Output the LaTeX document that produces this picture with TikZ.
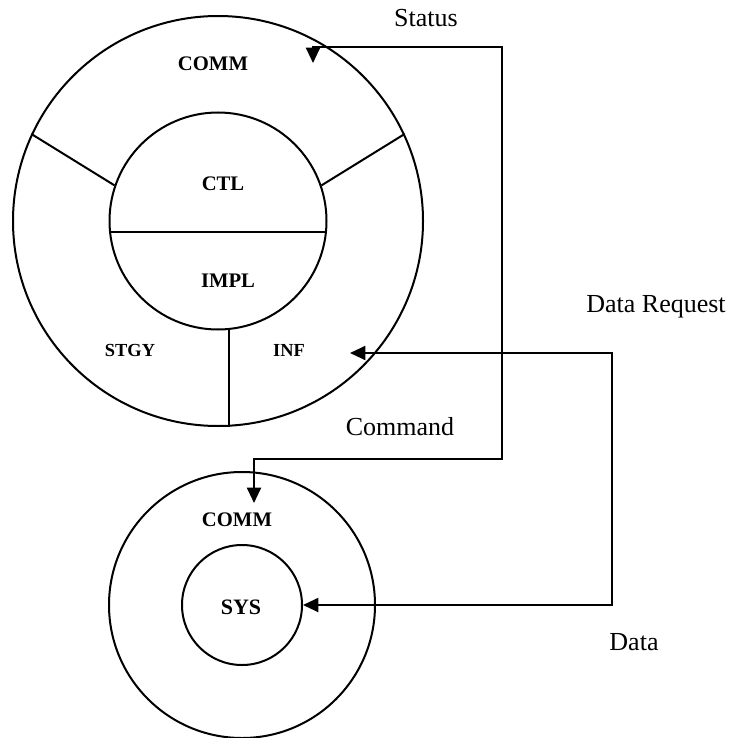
\documentclass[tikz,border=0pt]{standalone}
\usepackage{fontspec}
\setmainfont{Liberation Serif}
\usetikzlibrary{arrows.meta}
\pgfkeys{tikz/ring/.style={draw,circle,line width=1.5pt,inner sep=0pt}}
\pgfkeys{tikz/part/.style={font=\fontsize{15.5}{18}\selectfont\bfseries}}
\pgfkeys{tikz/subpart/.style={font=\fontsize{13.8}{16}\selectfont\bfseries}}
\pgfkeys{tikz/msg/.style={font=\fontsize{19.5}{23}\selectfont}}
\pgfkeys{tikz/wire/.style={line width=1.5pt,>={Triangle[length=11.5pt,width=10.5pt]}}}
\newcommand\px{0.75pt}

\begin{document}
\begin{tikzpicture}[x=\px,y=-\px]
    \useasboundingbox (0,0) rectangle (733,738);
    \node[ring,minimum size=410*\px] (agent) at (218,221) {};
    \node[ring,minimum size=217*\px] (core) at (218,221) {};
    \node[ring,minimum size=266*\px] (sysring) at (242,605) {};
    \node[ring,minimum size=120*\px] (sys) at (242,605) {};
    \draw[line width=1.5pt] (agent.155) -- (core.161);
    \draw[line width=1.5pt] (agent.25) -- (core.19);
    \draw[line width=1.5pt] (core.186) -- (core.-6);
    \draw[line width=1.5pt] (core.-84) -- (core.-84 |- agent.south);
    \node[part] (comm) at (213,64) {COMM};
    \node[part] (ctl) at (223,184) {CTL};
    \node[part] (impl) at (228,281) {IMPL};
    \node[subpart] (stgy) at (130,350) {STGY};
    \node[subpart] (inf) at (289,350) {INF};
    \node[part] (syscomm) at (237,520) {COMM};
    \node[part,font=\fontsize{16.5}{19}\selectfont\bfseries] (syslbl) at (241,607) {SYS};
    \coordinate (statin) at (313,63);
    \coordinate (cmdin) at (254,503);
    \coordinate (infin) at (350,353);
    \draw[wire,<->] (statin) |- (502,47) -- (502,459) -| (cmdin);
    \draw[wire,<->] (infin) -| (612,0 |- sys.east) -- (sys.east);
    \node[msg] (status) at (426,18) {Status};
    \node[msg] (command) at (400,427) {Command};
    \node[msg] (request) at (656,307) {Data Request};
    \node[msg] (data) at (634,642) {Data};
\end{tikzpicture}
\end{document}
